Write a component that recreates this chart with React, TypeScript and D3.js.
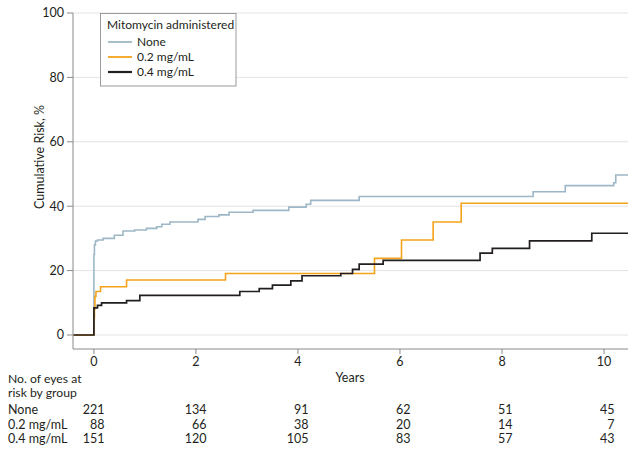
import React from "react";
import * as d3 from "d3";

type Pt = [number, number];

const noneSeries: Pt[] = [
  [-0.4, 0], [0, 0], [0.0, 25], [0.01, 28], [0.03, 29.2], [0.07, 29.5], [0.18, 30.0],
  [0.4, 31.0], [0.57, 32.3], [0.8, 32.6], [1.03, 33.1], [1.23, 33.6], [1.33, 34.4],
  [1.49, 35.1], [2.04, 35.9], [2.18, 36.8], [2.45, 37.3], [2.65, 38.1], [3.12, 38.7],
  [3.82, 39.7], [4.16, 40.6], [4.25, 41.8], [5.2, 43.0], [8.61, 44.5], [9.24, 46.4],
  [10.19, 47.3], [10.23, 49.7], [10.47, 49.7],
];

const mg02Series: Pt[] = [
  [-0.4, 0], [0, 0], [0.0, 5.3], [0.01, 8], [0.02, 12], [0.04, 13.5], [0.13, 15.0],
  [0.64, 17.1], [2.58, 19.1], [5.5, 23.8], [6.03, 29.5], [6.65, 35.1], [7.2, 40.9],
  [10.47, 40.9],
];

const mg04Series: Pt[] = [
  [-0.4, 0], [0, 0], [0.0, 8.4], [0.07, 9.2], [0.15, 10.0], [0.64, 10.7], [0.9, 12.3],
  [2.86, 13.5], [3.24, 14.4], [3.5, 15.5], [3.86, 16.8], [4.08, 18.4], [4.84, 19.1],
  [5.07, 20.4], [5.2, 22.0], [5.67, 23.2], [7.57, 25.4], [7.81, 26.9], [8.54, 29.2],
  [9.76, 31.6], [10.47, 31.6],
];

const seriesNames = ["None", "0.2 mg/mL", "0.4 mg/mL"];
const seriesColors = ["#9db7c6", "#f5a31a", "#231f20"];
const yTicks = [0, 20, 40, 60, 80, 100];
const xTicks = [0, 2, 4, 6, 8, 10];
const riskNone = [221, 134, 91, 62, 51, 45];
const risk02 = [88, 66, 38, 20, 14, 7];
const risk04 = [151, 120, 105, 83, 57, 43];

const FONT = "Lato, 'Open Sans', sans-serif";

export default function App() {
  const x = d3.scaleLinear().domain([-0.41, 10.47]).range([73, 628]);
  const y = d3.scaleLinear().domain([-4.35, 100]).range([349, 13]);
  const line = d3
    .line<Pt>()
    .x((d) => x(d[0]))
    .y((d) => y(d[1]))
    .curve(d3.curveStepAfter);
  const allSeries = [noneSeries, mg02Series, mg04Series];
  const risks = [riskNone, risk02, risk04];
  const riskY = [410, 424.5, 438.5];
  const textColor = "#231f20";
  const axisColor = "#8a8a8a";

  return (
    <svg
      width={638}
      height={454}
      style={{ position: "absolute", left: 0, top: 0, background: "#fff" }}
      fontFamily={FONT}
    >
      {yTicks.map((t) => (
        <line key={"g" + t} x1={73} x2={628} y1={y(t)} y2={y(t)} stroke="#e3e3e3" strokeWidth={1} />
      ))}
      <line x1={73} x2={73} y1={13} y2={349} stroke={axisColor} strokeWidth={1} />
      <line x1={73} x2={628} y1={349} y2={349} stroke={axisColor} strokeWidth={1} />
      {yTicks.map((t) => (
        <g key={"yt" + t}>
          <line x1={67} x2={73} y1={y(t)} y2={y(t)} stroke={axisColor} />
          <text x={64} y={y(t)} dy="0.35em" textAnchor="end" fontSize={12.5} fill={textColor}>
            {t}
          </text>
        </g>
      ))}
      {xTicks.map((t) => (
        <g key={"xt" + t}>
          <line x1={x(t)} x2={x(t)} y1={349} y2={354} stroke={axisColor} />
          <text x={x(t)} y={362} dy="0.35em" textAnchor="middle" fontSize={12.5} fill={textColor}>
            {t}
          </text>
        </g>
      ))}
      <text x={350} y={378} dy="0.35em" textAnchor="middle" fontSize={12.5} fill={textColor}>
        Years
      </text>
      <text
        transform="translate(40,157) rotate(-90)"
        textAnchor="middle"
        dy="0.35em"
        fontSize={12.5}
        fill={textColor}
      >
        Cumulative Risk, %
      </text>

      {allSeries.map((s, i) => (
        <path
          key={"s" + i}
          d={line(s) || ""}
          fill="none"
          stroke={seriesColors[i]}
          strokeWidth={i === 2 ? 1.7 : 1.6}
        />
      ))}

      <rect x={100.5} y={13.5} width={135.5} height={72.5} fill="#fff" stroke="#9a9a9a" strokeWidth={1} />
      <text x={107} y={25} dy="0.35em" fontSize={12} fill={textColor}>
        Mitomycin administered
      </text>
      {seriesNames.map((n, i) => (
        <g key={"l" + i}>
          <line
            x1={108}
            x2={132}
            y1={42 + i * 15}
            y2={42 + i * 15}
            stroke={seriesColors[i]}
            strokeWidth={i === 2 ? 2.2 : 1.8}
          />
          <text x={137} y={42 + i * 15} dy="0.35em" fontSize={12} fill={textColor}>
            {n}
          </text>
        </g>
      ))}

      <text x={8} y={379} dy="0.35em" fontSize={12.2} fill={textColor}>
        No. of eyes at
      </text>
      <text x={8} y={393} dy="0.35em" fontSize={12.2} fill={textColor}>
        risk by group
      </text>
      {seriesNames.map((n, i) => (
        <g key={"r" + i}>
          <text x={8} y={riskY[i]} dy="0.35em" fontSize={12.5} fill={textColor}>
            {n}
          </text>
          {risks[i].map((v, j) => (
            <text
              key={j}
              x={x(xTicks[j]) + 10.5}
              y={riskY[i]}
              dy="0.35em"
              textAnchor="end"
              fontSize={12.5}
              fill={textColor}
            >
              {v}
            </text>
          ))}
        </g>
      ))}
    </svg>
  );
}
